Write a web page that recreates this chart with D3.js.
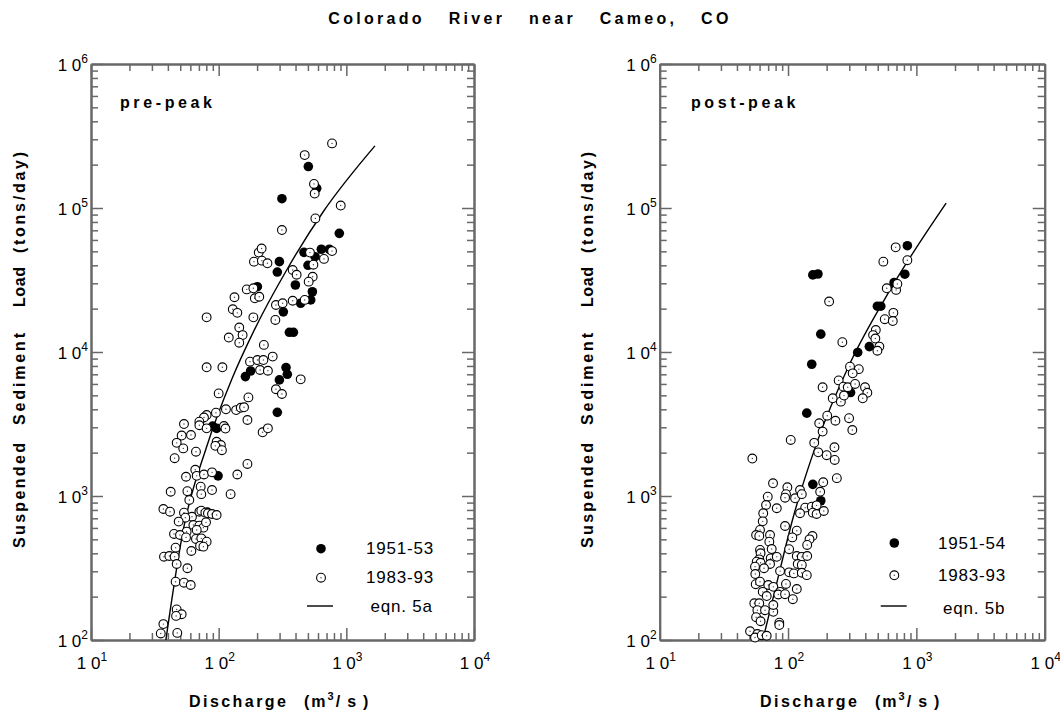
<!DOCTYPE html>
<html><head><meta charset="utf-8">
<script src="https://cdn.jsdelivr.net/npm/d3@7"></script>
<style>
body{margin:0;background:#fff}
svg{display:block}
text{font-family:"Liberation Sans",Arial,Helvetica,sans-serif;fill:#000}
</style>
</head><body>
<svg id="chart" width="1060" height="713"></svg>
<script>
// ---------------- DATA ----------------
const chartTitle = "Colorado River near Cameo, CO";
const panelNames = ["pre-peak", "post-peak"];
const legendFilledLabels = ["1951-53", "1951-54"];
const legendOpenLabels = ["1983-93", "1983-93"];
const legendCurveLabels = ["eqn. 5a", "eqn. 5b"];
const xTickExponents = [1, 2, 3, 4];
const yTickExponents = [2, 3, 4, 5, 6];
const yTitleWords = ["Suspended", "Sediment", "Load", "(tons/day)"];

// pre-peak, 1951-53 [discharge m3/s, load tons/day]
const pre1951 = [[504,194000],[586,137000],[313,116000],[881,66700],[299,42400],[288,35900],[466,49200],[569,45900],[637,51700],[736,51700],[501,40000],[399,29200],[201,28400],[542,26200],[526,23000],[439,21800],[321,19000],[358,13700],[385,13700],[337,7790],[345,7000],[178,7380],[162,6750],[299,6400],[288,3810],[89.7,3060],[96.4,2950],[98.9,1380],[81.5,774]];
// pre-peak, 1983-93
const pre1983 = [[80.5,17400],[129,19800],[140,18700],[120,12600],[145,14800],[154,13100],[145,11600],[133,24000],[166,27200],[187,27700],[192,23600],[208,24200],[189,42400],[206,49000],[217,52300],[218,43100],[241,41300],[187,17400],[226,11200],[80.5,7830],[107,7830],[176,8570],[201,8790],[224,8790],[265,9290],[211,7500],[243,7410],[313,70300],[281,21200],[317,21800],[278,16700],[380,37100],[408,34400],[380,22700],[472,233000],[558,147000],[565,126000],[572,84700],[773,281000],[904,104000],[519,49000],[552,40400],[668,44300],[773,50200],[545,33300],[507,30800],[472,23000],[439,6460],
[100,5160],[171,4840],[281,5510],[313,5110],[114,4000],[137,3950],[149,4100],[158,4130],[168,3370],[80.5,3650],[76.7,3510],[70.6,3280],[95.2,3790],[53.5,3160],[70.6,3100],[80.5,2950],[51.3,2630],[60.7,2650],[46.9,2340],[52.8,2140],[66.4,2030],[110,3060],[113,2940],[96.4,2380],[104,2260],[94.2,2230],[106,2080],[221,2770],[243,2950],[45.2,1830],[168,1670],[65.6,1520],[67.3,1380],[55.5,1360],[76.7,1410],[88.7,1460],[140,1410],[42.1,1070],[56.9,1080],[72.3,1160],[73.1,1030],[88.7,1100],[124,1030],[58.9,938],[36.9,812],[41.6,778],[53.5,766],[61.8,717],[54.8,707],[70.6,778],[73.1,791],[78.7,766],[82.4,758],[88.7,750],[96.4,738],[48.6,664],[63.4,629],[70.6,622],[75.9,603],[56.1,565],[67.3,581],[79.6,656],[44.7,545],[49.8,536],[55.5,516],[66.4,503],[73.1,508],[80.5,482],[71.5,450],[75.9,445],[46.0,438],[61.1,415],[37.3,379],[41.1,383],[45.2,379],[46.9,337],[56.9,315],[46.0,254],[53.5,250],[60.4,241],[46.9,163],[51.3,151],[46.4,147],[36.9,129],[35.2,111],[47.4,112]];
// pre-peak rating curve, eqn. 5a
const preCurve = [[38.6,100],[52.8,581],[80.5,2200],[126,6400],[187,13800],[341,37100],[659,94200],[1675,270000]];

// post-peak, 1951-54
const post1951 = [[851,54700],[813,34700],[670,30300],[156,34300],[171,34800],[497,20800],[528,20800],[180,13300],[430,10900],[349,9930],[153,8220],[307,5230],[140,3760],[156,1205],[180,927]];
// post-peak, 1983-93
const post1983 = [[690,53300],[553,42400],[851,43400],[588,27700],[695,27000],[711,29700],[209,22400],[662,18700],[567,16900],[655,16400],[483,14200],[460,13100],[479,12400],[515,10900],[497,10200],[265,11700],[304,7910],[356,7600],[319,7110],[248,6350],[270,5740],[292,5690],[333,6000],[398,5690],[415,5210],[382,4770],[186,5690],[223,4770],[258,4520],[273,4980],[202,3610],[234,3330],[175,3200],[186,2800],[299,3470],[317,2870],[105,2450],[160,2340],[172,2010],[200,1920],[230,2180],[231,1780],[52.7,1820],
[240,1330],[76.4,1225],[98.8,1150],[96.4,1030],[94.8,973],[113.5,964],[124,1100],[128,1030],[188,1245],[178,1070],[69.5,989],[67.4,866],[81.7,822],[136,830],[153,843],[167,861],[124,759],[156,766],[167,750],[190,787],[64.1,759],[63.5,667],[94.8,619],[60.5,581],[56.4,536],[59.7,528],[72.4,536],[71.5,482],[74.6,428],[117,574],[108,516],[155,527],[147,500],[141,457],[102,427],[60.5,422],[61.1,400],[59.7,363],[57.0,350],[61.1,344],[73.3,369],[81.7,378],[72.4,337],[117,383],[128,378],[141,383],[119,337],[128,332],[55.3,323],[55.6,287],[65.0,315],[102,295],[111,290],[128,293],[140,282],[86.7,301],[56.0,244],[60.5,254],[70.2,241],[76.8,234],[86.7,216],[96.4,245],[117,226],[63.5,216],[68.2,202],[84.0,207],[94.8,208],[109,192],[54.6,180],[59.7,180],[57.7,161],[66.2,161],[76.8,157],[76.8,175],[56.4,144],[61.1,135],[85.5,132],[85.5,127],[50.6,115],[57.7,110],[55.3,104],[62.4,108],[68.2,107]];
// post-peak rating curve, eqn. 5b
const postCurve = [[63.6,100],[79.2,222],[110,718],[167,2320],[304,8350],[624,27000],[1706,108000]];

const xDomain = [10, 10000];
const yDomain = [100, 1000000];

// ---------------- LAYOUT ----------------
const svg = d3.select("#chart");
const axisColor = "#686868";
const yWordStarts = [548, 425, 307, 253];
const yWordLengths = [105, 92, 40, 101];
const panels = [
  {x0: 91, x1: 474, y0: 64, y1: 640, filled: pre1951, open: pre1983, curve: preCurve,
   name: panelNames[0], nameX: 120, yTitleX: 25, xTitleStart: 189, xTitleParen: 304,
   leg: {mx: 321, my: [548.7, 577.7, 606], lx1: 307, lx2: 333, tx: 366, tx3: 370.5, ty: [554, 583, 612]},
   labs: [legendFilledLabels[0], legendOpenLabels[0], legendCurveLabels[0]]},
  {x0: 659.7, x1: 1044.7, y0: 64, y1: 640, filled: post1951, open: post1983, curve: postCurve,
   name: panelNames[1], nameX: 691, yTitleX: 593, xTitleStart: 760, xTitleParen: 875,
   leg: {mx: 894.3, my: [543, 575.3, 606], lx1: 880.7, lx2: 906.7, tx: 938, tx3: 943, ty: [548.5, 580.5, 614]},
   labs: [legendFilledLabels[1], legendOpenLabels[1], legendCurveLabels[1]]}
];

// title
svg.append("text").attr("x", 530).attr("y", 24).attr("text-anchor", "middle")
  .style("font-weight", "bold").style("font-size", "16px")
  .style("letter-spacing", "3.3px").style("word-spacing", "16px")
  .text(chartTitle);

function styleAxis(g) {
  g.selectAll("path").attr("stroke", axisColor).attr("stroke-width", 2);
  g.selectAll("line").attr("stroke", axisColor).attr("stroke-width", 1.5);
  g.selectAll("text").remove();
}

panels.forEach(p => {
  const x = d3.scaleLog().domain(xDomain).range([p.x0, p.x1]);
  const y = d3.scaleLog().domain(yDomain).range([p.y1, p.y0]);
  const isMajor = v => Math.abs(Math.log10(v) - Math.round(Math.log10(v))) < 1e-9;
  const xMinor = x.ticks().filter(v => !isMajor(v));
  const yMinor = y.ticks().filter(v => !isMajor(v));
  const xMajor = xTickExponents.map(e => Math.pow(10, e));
  const yMajor = yTickExponents.map(e => Math.pow(10, e));

  const g = svg.append("g");
  const axes = [
    [d3.axisBottom(x), `translate(0,${p.y1})`, xMinor, xMajor],
    [d3.axisTop(x), `translate(0,${p.y0})`, xMinor, xMajor],
    [d3.axisLeft(y), `translate(${p.x0},0)`, yMinor, yMajor],
    [d3.axisRight(y), `translate(${p.x1},0)`, yMinor, yMajor]
  ];
  axes.forEach(([ax, tr, minor, major]) => {
    g.append("g").attr("transform", tr)
      .call(ax.tickValues(minor).tickSize(-7).tickSizeOuter(0).tickFormat(""))
      .call(styleAxis);
    g.append("g").attr("transform", tr)
      .call(ax.tickValues(major).tickSize(-12).tickSizeOuter(0).tickFormat(""))
      .call(styleAxis);
  });

  // tick labels (10 with superscript exponent)
  xTickExponents.forEach(e => {
    const t = g.append("text").attr("x", x(Math.pow(10, e)) + 1).attr("y", p.y1 + 29)
      .attr("text-anchor", "middle").style("font-size", "17px");
    t.append("tspan").text("1 0");
    t.append("tspan").attr("dy", -8).style("font-size", "12px").text(e);
  });
  yTickExponents.forEach(e => {
    const t = g.append("text").attr("x", p.x0 - 3).attr("y", y(Math.pow(10, e)) + 7)
      .attr("text-anchor", "end").style("font-size", "17px");
    t.append("tspan").text("1 0");
    t.append("tspan").attr("dy", -8).style("font-size", "12px").text(e);
  });

  // axis titles
  const yt = g.append("g").attr("transform", `translate(${p.yTitleX},0) rotate(-90)`);
  yTitleWords.forEach((w, i) => {
    yt.append("text").attr("x", -yWordStarts[i]).attr("y", 0)
      .attr("textLength", yWordLengths[i]).attr("lengthAdjust", "spacing")
      .style("font-weight", "bold").style("font-size", "16px")
      .text(w);
  });
  g.append("text").attr("x", p.xTitleStart).attr("y", 707)
    .attr("textLength", 97).attr("lengthAdjust", "spacing")
    .style("font-weight", "bold").style("font-size", "16px")
    .text("Discharge");
  const xt = g.append("text").attr("x", p.xTitleParen).attr("y", 707)
    .style("font-weight", "bold").style("font-size", "16px").style("letter-spacing", "2px");
  xt.append("tspan").text("(m");
  xt.append("tspan").attr("dy", -7).style("font-size", "11px").text("3");
  xt.append("tspan").attr("dy", 7).text("/");
  xt.append("tspan").attr("dx", 5).text("s");
  xt.append("tspan").attr("dx", 5).text(")");

  // panel name
  g.append("text").attr("x", p.nameX).attr("y", 108)
    .style("font-weight", "bold").style("font-size", "16px").style("letter-spacing", "3.6px")
    .text(p.name);

  // curve
  const line = d3.line().x(d => x(d[0])).y(d => y(d[1])).curve(d3.curveMonotoneX);
  g.append("path").datum(p.curve).attr("d", line)
    .attr("fill", "none").attr("stroke", "#000").attr("stroke-width", 1.4);

  // points
  g.append("g").selectAll("circle").data(p.filled).join("circle")
    .attr("cx", d => x(d[0])).attr("cy", d => y(d[1])).attr("r", 4.8).attr("fill", "#000");
  const og = g.append("g").selectAll("g").data(p.open).join("g")
    .attr("transform", d => `translate(${x(d[0])},${y(d[1])})`);
  og.append("circle").attr("r", 4.4).attr("fill", "#fff").attr("stroke", "#000").attr("stroke-width", 1.1);
  og.append("circle").attr("r", 0.7).attr("fill", "#444");

  // legend
  const L = p.leg;
  g.append("circle").attr("cx", L.mx).attr("cy", L.my[0]).attr("r", 4.8).attr("fill", "#000");
  g.append("circle").attr("cx", L.mx).attr("cy", L.my[1]).attr("r", 4.4).attr("fill", "#fff").attr("stroke", "#000").attr("stroke-width", 1.1);
  g.append("circle").attr("cx", L.mx).attr("cy", L.my[1]).attr("r", 0.7).attr("fill", "#444");
  g.append("line").attr("x1", L.lx1).attr("x2", L.lx2).attr("y1", L.my[2]).attr("y2", L.my[2])
    .attr("stroke", "#000").attr("stroke-width", 1.4);
  [0, 1, 2].forEach(i => {
    g.append("text").attr("x", i === 2 ? L.tx3 : L.tx).attr("y", L.ty[i])
      .style("font-size", "17px").style("letter-spacing", "0.8px").text(p.labs[i]);
  });
});
</script>
</body></html>
